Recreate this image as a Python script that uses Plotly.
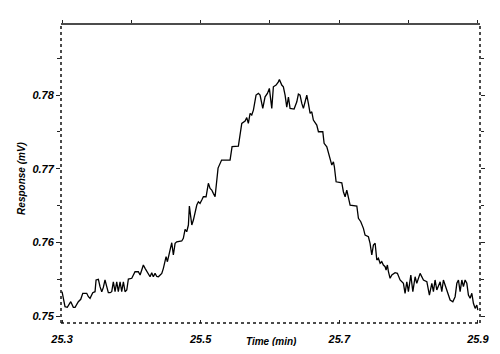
import plotly.graph_objects as go

time_min = [
    25.3000, 25.3043, 25.3076, 25.3126, 25.3163, 25.3188, 25.3235, 25.3270, 25.3299, 25.3356,
    25.3380, 25.3404, 25.3443, 25.3476, 25.3491, 25.3524, 25.3548, 25.3573, 25.3596, 25.3620,
    25.3645, 25.3668, 25.3693, 25.3717, 25.3740, 25.3765, 25.3789, 25.3812, 25.3837, 25.3861,
    25.3885, 25.3909, 25.3934, 25.3957, 25.4006, 25.4053, 25.4101, 25.4126, 25.4150, 25.4173,
    25.4198, 25.4231, 25.4270, 25.4294, 25.4317, 25.4342, 25.4367, 25.4390, 25.4439, 25.4462,
    25.4501, 25.4520, 25.4548, 25.4569, 25.4583, 25.4606, 25.4631, 25.4655, 25.4727, 25.4750,
    25.4775, 25.4799, 25.4823, 25.4837, 25.4857, 25.4872, 25.4895, 25.4919, 25.4944, 25.4967,
    25.4991, 25.5016, 25.5039, 25.5078, 25.5111, 25.5136, 25.5160, 25.5183, 25.5208, 25.5251,
    25.5302, 25.5424, 25.5453, 25.5544, 25.5583, 25.5593, 25.5641, 25.5665, 25.5688, 25.5713,
    25.5737, 25.5761, 25.5799, 25.5833, 25.5857, 25.5896, 25.5929, 25.5963, 25.5991, 25.6001,
    25.6026, 25.6049, 25.6088, 25.6121, 25.6136, 25.6170, 25.6193, 25.6218, 25.6242, 25.6266,
    25.6290, 25.6348, 25.6387, 25.6410, 25.6434, 25.6459, 25.6482, 25.6507, 25.6531, 25.6554,
    25.6579, 25.6603, 25.6626, 25.6675, 25.6699, 25.6762, 25.6781, 25.6820, 25.6857, 25.6892,
    25.6915, 25.6929, 25.6954, 25.7036, 25.7059, 25.7084, 25.7108, 25.7131, 25.7156, 25.7253,
    25.7276, 25.7310, 25.7348, 25.7372, 25.7420, 25.7444, 25.7469, 25.7492, 25.7517, 25.7541,
    25.7564, 25.7589, 25.7613, 25.7636, 25.7661, 25.7675, 25.7694, 25.7709, 25.7733, 25.7758,
    25.7805, 25.7838, 25.7877, 25.7925, 25.7949, 25.7974, 25.7997, 25.8032, 25.8061, 25.8094,
    25.8118, 25.8166, 25.8191, 25.8214, 25.8263, 25.8300, 25.8335, 25.8358, 25.8382, 25.8407,
    25.8455, 25.8479, 25.8502, 25.8551, 25.8599, 25.8638, 25.8671, 25.8696, 25.8719, 25.8743,
    25.8768, 25.8791, 25.8815, 25.8840, 25.8863, 25.8887, 25.8912, 25.8935, 25.8960, 25.8984,
    25.8999,
]

response_mv = [
    0.75330, 0.75126, 0.75118, 0.75194, 0.75118, 0.75118, 0.75194, 0.75227, 0.75308, 0.75308,
    0.75262, 0.75240, 0.75316, 0.75330, 0.75489, 0.75498, 0.75398, 0.75330, 0.75389, 0.75489,
    0.75398, 0.75316, 0.75316, 0.75330, 0.75465, 0.75330, 0.75465, 0.75330, 0.75465, 0.75330,
    0.75465, 0.75330, 0.75353, 0.75502, 0.75512, 0.75601, 0.75601, 0.75556, 0.75624, 0.75692,
    0.75647, 0.75588, 0.75533, 0.75588, 0.75533, 0.75579, 0.75536, 0.75533, 0.75579, 0.75647,
    0.75805, 0.75737, 0.75851, 0.75896, 0.75995, 0.75828, 0.75987, 0.76008, 0.76018, 0.76054,
    0.76177, 0.76144, 0.76235, 0.76493, 0.76348, 0.76235, 0.76303, 0.76415, 0.76506, 0.76551,
    0.76529, 0.76574, 0.76619, 0.76619, 0.76801, 0.76733, 0.76710, 0.76665, 0.76619, 0.77008,
    0.77117, 0.77117, 0.77300, 0.77307, 0.77565, 0.77615, 0.77646, 0.77694, 0.77615, 0.77751,
    0.77728, 0.77795, 0.77999, 0.78022, 0.77999, 0.77819, 0.77976, 0.78022, 0.78090, 0.77999,
    0.77819, 0.78112, 0.78135, 0.78179, 0.78212, 0.78135, 0.78112, 0.77999, 0.77836, 0.77972,
    0.77819, 0.77809, 0.77908, 0.78013, 0.77999, 0.77886, 0.77819, 0.77908, 0.77999, 0.77886,
    0.77751, 0.77772, 0.77660, 0.77592, 0.77501, 0.77501, 0.77344, 0.77297, 0.77185, 0.77049,
    0.77094, 0.77026, 0.76822, 0.76809, 0.76687, 0.76619, 0.76710, 0.76619, 0.76506, 0.76493,
    0.76326, 0.76280, 0.76190, 0.76099, 0.76076, 0.75987, 0.75828, 0.75963, 0.75987, 0.75760,
    0.75783, 0.75715, 0.75737, 0.75692, 0.75669, 0.75624, 0.75692, 0.75601, 0.75512, 0.75556,
    0.75588, 0.75579, 0.75489, 0.75444, 0.75308, 0.75465, 0.75330, 0.75556, 0.75330, 0.75533,
    0.75444, 0.75579, 0.75533, 0.75489, 0.75465, 0.75285, 0.75444, 0.75330, 0.75489, 0.75353,
    0.75465, 0.75330, 0.75489, 0.75353, 0.75217, 0.75194, 0.75262, 0.75444, 0.75489, 0.75330,
    0.75489, 0.75398, 0.75489, 0.75444, 0.75285, 0.75240, 0.75308, 0.75172, 0.75104, 0.75149,
    0.75081,
]

x_tick_vals = [25.3, 25.5, 25.7, 25.9]
x_tick_text = ["25.3", "25.5", "25.7", "25.9"]
x_top_ticks = [25.3, 25.4, 25.5, 25.6, 25.7, 25.8, 25.9]
y_tick_vals = [0.75, 0.76, 0.77, 0.78]
y_tick_text = ["0.75", "0.76", "0.77", "0.78"]

x_range = [25.2985, 25.903]
y_range = [0.74905, 0.78964]

lab_font = dict(family="Liberation Sans, Arial, sans-serif", size=11, color="black",
                weight="bold", style="italic")
title_font = dict(family="Liberation Sans, Arial, sans-serif", size=10, color="black",
                  weight="bold", style="italic")

fig = go.Figure()
fig.add_trace(go.Scatter(x=time_min, y=response_mv, mode="lines",
                         line=dict(color="black", width=1.3), showlegend=False,
                         hoverinfo="skip"))
# invisible trace for the top axis
fig.add_trace(go.Scatter(x=[x_range[0]], y=[y_range[0]], xaxis="x2", mode="markers",
                         marker=dict(opacity=0), showlegend=False, hoverinfo="skip"))

fig.update_layout(
    width=484, height=338,
    margin=dict(l=53, r=12, t=16, b=23),
    paper_bgcolor="white", plot_bgcolor="white",
    xaxis=dict(range=x_range, tickvals=x_tick_vals, ticktext=x_tick_text,
               ticks="inside", ticklen=3, tickcolor="#222", tickwidth=1,
               showgrid=False, zeroline=False, showline=False, automargin=False,
               tickfont=lab_font, ticklabelstandoff=8),
    xaxis2=dict(range=x_range, overlaying="x", side="top", tickvals=x_top_ticks,
                ticks="outside", ticklen=3, tickcolor="#222", showticklabels=False,
                showgrid=False, zeroline=False, showline=False, automargin=False),
    yaxis=dict(range=y_range, tickvals=y_tick_vals, ticktext=y_tick_text,
               ticks="outside", ticklen=4, tickcolor="#222", tickwidth=1,
               minor=dict(dtick=0.005, tick0=0.75, ticks="outside", ticklen=3, tickcolor="#222"),
               mirror="ticks", automargin=False,
               showgrid=False, zeroline=False, showline=False, tickfont=lab_font),
    shapes=[
        dict(type="line", xref="paper", yref="paper", x0=0, x1=1, y0=1, y1=1,
             line=dict(color="#111", width=1.6)),
        dict(type="line", xref="paper", yref="paper", x0=0, x1=1, y0=0, y1=0,
             line=dict(color="#111", width=1.5, dash="dot")),
        dict(type="line", xref="paper", yref="paper", x0=0, x1=0, y0=0, y1=1,
             line=dict(color="#111", width=1.5, dash="dot")),
        dict(type="line", xref="paper", yref="paper", x0=1, x1=1, y0=0, y1=1,
             line=dict(color="#111", width=1.5, dash="dot")),
    ],
    annotations=[
        dict(text="Time (min)", xref="paper", yref="paper", x=0.502, y=0, yshift=-18,
             xanchor="center", yanchor="middle", showarrow=False, font=title_font),
        dict(text="Response (mV)", xref="paper", yref="paper", x=0, xshift=-39,
             y=0.482, xanchor="center", yanchor="middle", textangle=-90, showarrow=False,
             font=title_font),
    ],
)

fig.write_html("out.html")
